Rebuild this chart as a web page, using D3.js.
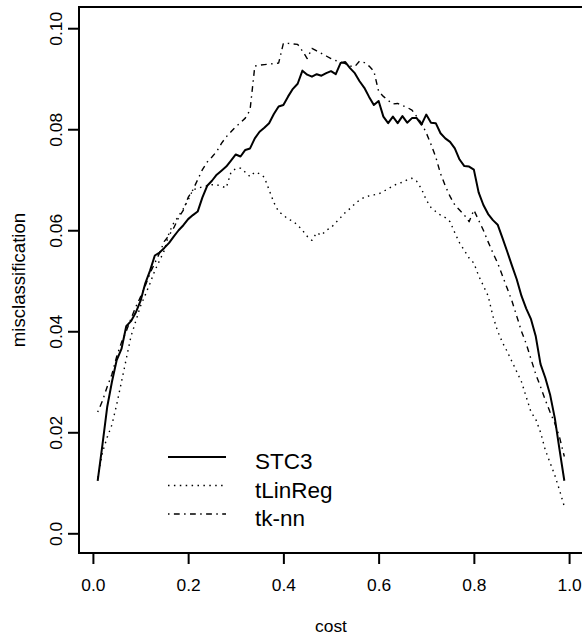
<!DOCTYPE html>
<html>
<head>
<meta charset="utf-8">
<script src="https://cdn.jsdelivr.net/npm/d3@7"></script>
<style>
  body { margin: 0; background: #fff; }
  svg text { font-family: "Liberation Sans", Arial, sans-serif; fill: #000; }
</style>
</head>
<body>
<svg id="chart" width="582" height="640"></svg>
<script>
// cost grid 0.01 .. 0.99
var cost = d3.range(1, 100).map(function(i) { return i / 100; });

var stc3 = [
  0.0104, 0.0175, 0.0250, 0.0300, 0.0343, 0.0365, 0.0410, 0.0420, 0.0437, 0.0460,
  0.0495, 0.0520, 0.0550, 0.0556, 0.0565, 0.0575, 0.0588, 0.0600, 0.0610, 0.0622,
  0.0630, 0.0637, 0.0665, 0.0688, 0.0698, 0.0710, 0.0718, 0.0726, 0.0738, 0.0750,
  0.0746, 0.0759, 0.0762, 0.0782, 0.0795, 0.0803, 0.0812, 0.0830, 0.0845, 0.0848,
  0.0865, 0.0880, 0.0890, 0.0916, 0.0908, 0.0904, 0.0909, 0.0906, 0.0911, 0.0915,
  0.0909, 0.0931, 0.0933, 0.0921, 0.0911, 0.0895, 0.0882, 0.0864, 0.0848, 0.0856,
  0.0825, 0.0812, 0.0825, 0.0812, 0.0826, 0.0813, 0.0822, 0.0822, 0.0809, 0.0829,
  0.0813, 0.0812, 0.0792, 0.0782, 0.0775, 0.0762, 0.0740, 0.0727, 0.0726, 0.0720,
  0.0675, 0.0650, 0.0632, 0.0620, 0.0611, 0.0585, 0.0558, 0.0530, 0.0503, 0.0470,
  0.0445, 0.0424, 0.0390, 0.0335, 0.0308, 0.0275, 0.0228, 0.0165, 0.0104
];

var tLinReg = [
  0.0110, 0.0160, 0.0190, 0.0215, 0.0255, 0.0300, 0.0345, 0.0390, 0.0420, 0.0450,
  0.0472, 0.0495, 0.0520, 0.0540, 0.0560, 0.0595, 0.0615, 0.0628, 0.0643, 0.0660,
  0.0680, 0.0683, 0.0686, 0.0688, 0.0690, 0.0690, 0.0687, 0.0684, 0.0715, 0.0722,
  0.0723, 0.0715, 0.0706, 0.0715, 0.0712, 0.0705, 0.0680, 0.0655, 0.0637, 0.0630,
  0.0622, 0.0618, 0.0610, 0.0600, 0.0588, 0.0580, 0.0595, 0.0590, 0.0600, 0.0605,
  0.0615, 0.0625, 0.0635, 0.0643, 0.0652, 0.0660, 0.0665, 0.0668, 0.0670, 0.0672,
  0.0677, 0.0682, 0.0688, 0.0692, 0.0695, 0.0700, 0.0703, 0.0697, 0.0682, 0.0660,
  0.0645, 0.0637, 0.0630, 0.0625, 0.0617, 0.0595, 0.0575, 0.0560, 0.0545, 0.0535,
  0.0510, 0.0490, 0.0470, 0.0430, 0.0400, 0.0378, 0.0360, 0.0340, 0.0320, 0.0300,
  0.0270, 0.0240, 0.0226, 0.0200, 0.0165, 0.0140, 0.0115, 0.0085, 0.0053
];

var tknn = [
  0.0240, 0.0262, 0.0290, 0.0315, 0.0350, 0.0378, 0.0400, 0.0425, 0.0448, 0.0468,
  0.0490, 0.0515, 0.0535, 0.0555, 0.0578, 0.0590, 0.0605, 0.0625, 0.0640, 0.0665,
  0.0680, 0.0700, 0.0720, 0.0735, 0.0745, 0.0756, 0.0772, 0.0785, 0.0795, 0.0805,
  0.0813, 0.0822, 0.0838, 0.0925, 0.0927, 0.0928, 0.0929, 0.0930, 0.0931, 0.0970,
  0.0970, 0.0969, 0.0968, 0.0955, 0.0940, 0.0960, 0.0955, 0.0950, 0.0945, 0.0940,
  0.0936, 0.0933, 0.0930, 0.0925, 0.0924, 0.0935, 0.0932, 0.0925, 0.0915, 0.0875,
  0.0865, 0.0857, 0.0850, 0.0851, 0.0847, 0.0843, 0.0838, 0.0825, 0.0812, 0.0793,
  0.0770, 0.0745, 0.0712, 0.0688, 0.0667, 0.0650, 0.0640, 0.0630, 0.0617, 0.0640,
  0.0620, 0.0600, 0.0577, 0.0555, 0.0535, 0.0510, 0.0485, 0.0460, 0.0430, 0.0400,
  0.0375, 0.0345, 0.0315, 0.0290, 0.0264, 0.0240, 0.0218, 0.0190, 0.0152
];

var xTicks = [0, 0.2, 0.4, 0.6, 0.8, 1.0];
var yTicks = [0, 0.02, 0.04, 0.06, 0.08, 0.10];
var yTickLabels = ["0.0", "0.02", "0.04", "0.06", "0.08", "0.10"];
var seriesNames = ["STC3", "tLinReg", "tk-nn"];
var seriesDash = [null, "1.5,4.4", "1.5,4.4,5.8,4.4"];

// plot region (R style box)
var box = {left: 79, top: 7, right: 583, bottom: 553};

var svg = d3.select("svg#chart");

var x = d3.scaleLinear()
  .domain([-0.0292, 1.0292])
  .range([box.left, box.right]);

var y = d3.scaleLinear()
  .domain([-0.0039, 0.1042])
  .range([box.bottom, box.top]);

var line = d3.line()
  .x(function(d) { return x(d[0]); })
  .y(function(d) { return y(d[1]); });

var allSeries = [stc3, tLinReg, tknn];

allSeries.forEach(function(vals, i) {
  svg.append("path")
    .datum(cost.map(function(c, j) { return [c, vals[j]]; }))
    .attr("fill", "none")
    .attr("stroke", "#000")
    .attr("stroke-width", i == 0 ? 2 : 1.4)
    .attr("stroke-linejoin", "round")
    .attr("stroke-dasharray", seriesDash[i])
    .attr("d", line);
});

// box
svg.append("rect")
  .attr("x", box.left)
  .attr("y", box.top)
  .attr("width", box.right - box.left)
  .attr("height", box.bottom - box.top)
  .attr("fill", "none")
  .attr("stroke", "#000")
  .attr("stroke-width", 2);

// x axis
var xAxis = svg.append("g")
  .attr("transform", "translate(0," + box.bottom + ")")
  .call(d3.axisBottom(x).tickValues(xTicks).tickSize(11).tickPadding(15)
    .tickFormat(d3.format(".1f")));
xAxis.select(".domain").remove();
xAxis.selectAll("line").attr("stroke-width", 2);
xAxis.selectAll("text")
  .attr("font-size", 17.4)
  .attr("font-family", "Liberation Sans, Arial, sans-serif");

// y axis
var yAxis = svg.append("g")
  .attr("transform", "translate(" + box.left + ",0)")
  .call(d3.axisLeft(y).tickValues(yTicks).tickSize(11)
    .tickFormat(function(d, i) { return yTickLabels[i]; }));
yAxis.select(".domain").remove();
yAxis.selectAll("line").attr("stroke-width", 2);
yAxis.selectAll("text")
  .attr("x", null).attr("dy", null)
  .attr("font-size", 17.4)
  .attr("font-family", "Liberation Sans, Arial, sans-serif")
  .attr("text-anchor", "middle")
  .attr("transform", "translate(-17,0) rotate(-90)");

// axis titles
svg.append("text")
  .attr("x", (box.left + box.right) / 2)
  .attr("y", 632)
  .attr("text-anchor", "middle")
  .attr("font-size", 17.4)
  .text("cost");

svg.append("text")
  .attr("transform", "translate(25," + (box.top + box.bottom) / 2 + ") rotate(-90)")
  .attr("text-anchor", "middle")
  .attr("font-size", 18.6)
  .text("misclassification");

// legend
var legend = svg.append("g");
seriesNames.forEach(function(name, i) {
  var ly = 457 + i * 28.5;
  legend.append("line")
    .attr("x1", 168).attr("x2", 226)
    .attr("y1", ly).attr("y2", ly)
    .attr("stroke", "#000")
    .attr("stroke-width", i == 0 ? 2 : 1.4)
    .attr("stroke-dasharray", seriesDash[i]);
  legend.append("text")
    .attr("x", 255)
    .attr("y", ly + 12)
    .attr("font-size", 22.5)
    .text(name);
});
</script>
</body>
</html>
